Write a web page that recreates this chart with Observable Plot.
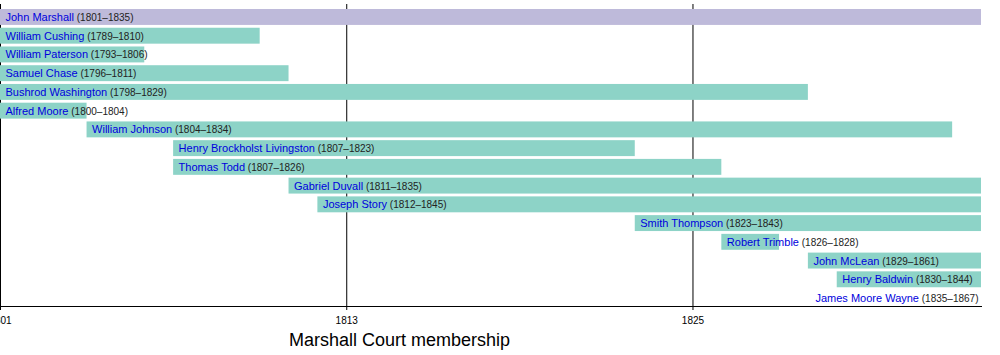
<!DOCTYPE html>
<html><head><meta charset="utf-8">
<script src="https://cdn.jsdelivr.net/npm/d3@7"></script>
<script src="https://cdn.jsdelivr.net/npm/@observablehq/plot@0.6"></script>
<style>
body{margin:0;background:#fff;font-family:"Liberation Sans",Arial,sans-serif}
#wrap{position:relative;width:1000px;height:355px;overflow:hidden}
#title{position:absolute;left:289px;top:331px;font-size:18px;line-height:18px;color:#000;white-space:nowrap}
svg{display:block}
</style></head><body>
<div id="wrap"><div id="title">Marshall Court membership</div></div>
<script>
const names = ["John Marshall","William Cushing","William Paterson","Samuel Chase","Bushrod Washington","Alfred Moore","William Johnson","Henry Brockholst Livingston","Thomas Todd","Gabriel Duvall","Joseph Story","Smith Thompson","Robert Trimble","John McLean","Henry Baldwin","James Moore Wayne"];
const starts = [1801,1789,1793,1796,1798,1800,1804,1807,1807,1811,1812,1823,1826,1829,1830,1835];
const ends = [1835,1810,1806,1811,1829,1804,1834,1823,1826,1835,1845,1843,1828,1861,1844,1867];
const roles = ["Chief Justice","Associate Justice","Associate Justice","Associate Justice","Associate Justice","Associate Justice","Associate Justice","Associate Justice","Associate Justice","Associate Justice","Associate Justice","Associate Justice","Associate Justice","Associate Justice","Associate Justice","Associate Justice"];
const xDomain = [1801, 1835];
const xTicks = [1801, 1813, 1825];

const data = names.map((name, i) => ({name, start: starts[i], end: ends[i], role: roles[i]}));

const chart = Plot.plot({
  width: 1000,
  height: 328,
  marginLeft: 0,
  marginRight: 19,
  marginTop: 9,
  marginBottom: 22,
  style: {fontFamily: "'Liberation Sans', Arial, sans-serif", fontSize: "10px", background: "transparent", color: "#000"},
  x: {domain: xDomain, clamp: true, ticks: xTicks, tickFormat: "d", tickSize: 4, tickPadding: 6, label: null},
  y: {domain: names, paddingInner: 0.15, paddingOuter: 0, round: false, axis: null},
  color: {domain: ["Chief Justice", "Associate Justice"], range: ["#bebada", "#8dd3c7"]},
  marks: [
    Plot.ruleX(xTicks, {stroke: "#000", strokeWidth: 1, insetTop: -5}),
    Plot.frame({anchor: "bottom", stroke: "#000"}),
    Plot.barX(data, {x1: "start", x2: "end", y: "name", fill: "role"}),
    Plot.text(data.filter(d => d.start < xDomain[1]), {x: "start", y: "name", text: "name", textAnchor: "start", dx: 5, fill: "#0000dd", fontSize: 11}),
    Plot.text(data.filter(d => d.start >= xDomain[1]), {x: "end", y: "name", text: "name", textAnchor: "end", dx: -3, fill: "#0000dd", fontSize: 11})
  ]
});

d3.select(chart).selectAll("text").each(function() {
  const i = names.indexOf(this.textContent);
  if (i >= 0) {
    d3.select(this).append("tspan")
      .attr("fill", "#222")
      .attr("font-size", "10px")
      .text(" (" + starts[i] + "\u2013" + ends[i] + ")");
  }
});

document.getElementById("wrap").prepend(chart);
</script>
</body></html>
